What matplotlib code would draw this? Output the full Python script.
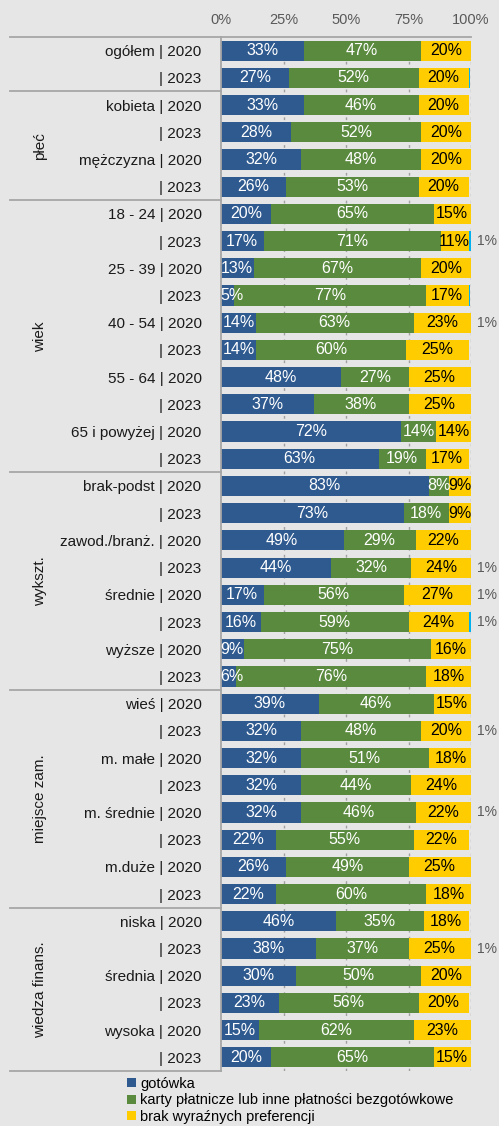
import numpy as np
import matplotlib.pyplot as plt

plt.rcParams['font.family'] = ['Liberation Sans', 'DejaVu Sans']

# row labels (category | year) and group captions
labels = ['ogółem | 2020', '| 2023',
          'kobieta | 2020', '| 2023', 'mężczyzna | 2020', '| 2023',
          '18 - 24 | 2020', '| 2023', '25 - 39 | 2020', '| 2023',
          '40 - 54 | 2020', '| 2023', '55 - 64 | 2020', '| 2023',
          '65 i powyżej | 2020', '| 2023',
          'brak-podst | 2020', '| 2023', 'zawod./branż. | 2020', '| 2023',
          'średnie | 2020', '| 2023', 'wyższe | 2020', '| 2023',
          'wieś | 2020', '| 2023', 'm. małe | 2020', '| 2023',
          'm. średnie | 2020', '| 2023', 'm.duże | 2020', '| 2023',
          'niska | 2020', '| 2023', 'średnia | 2020', '| 2023',
          'wysoka | 2020', '| 2023']
groups = ['', 'płeć', 'wiek', 'wykszt.', 'miejsce zam.', 'wiedza finans.']
group_sizes = [2, 4, 10, 8, 8, 6]

gotowka = [33, 27, 33, 28, 32, 26, 20, 17, 13, 5, 14, 14, 48, 37, 72, 63,
           83, 73, 49, 44, 17, 16, 9, 6, 39, 32, 32, 32, 32, 22, 26, 22,
           46, 38, 30, 23, 15, 20]
karty = [47, 52, 46, 52, 48, 53, 65, 71, 67, 77, 63, 60, 27, 38, 14, 19,
         8, 18, 29, 32, 56, 59, 75, 76, 46, 48, 51, 44, 46, 55, 49, 60,
         35, 37, 50, 56, 62, 65]
brak = [20, 20, 20, 20, 20, 20, 15, 11, 20, 17, 23, 25, 25, 25, 14, 17,
        9, 9, 22, 24, 27, 24, 16, 18, 15, 20, 18, 24, 22, 22, 25, 18,
        18, 25, 20, 20, 23, 15]
inne = [0, 0.5, 0, 0, 0, 0, 0, 1, 0.3, 0.5, 1, 0.3, 0, 0, 0, 0,
        0, 0, 0.3, 1, 1, 1, 0, 0, 0.3, 1, 0, 0, 1, 0, 0, 0,
        0, 1, 0, 0, 0, 0.3]

series = [('gotówka', gotowka, '#2f5a8f', 'white'),
          ('karty płatnicze lub inne płatności bezgotówkowe', karty, '#5a8a3e', 'white'),
          ('brak wyraźnych preferencji', brak, '#ffcc00', 'black')]

bg = '#e6e6e6'
line_col = '#a6a6a6'

fig = plt.figure(figsize=(4.99, 11.26), dpi=100, facecolor=bg)
ax = fig.add_axes([221 / 499, 1 - 1071 / 1126, 250 / 499, (1071 - 37) / 1126])
ax.set_facecolor(bg)

y = np.arange(len(labels))
left = np.zeros(len(labels))
handles = []
for name, vals, col, tcol in series:
    vals = np.array(vals, dtype=float)
    bars = ax.barh(y, vals, left=left, height=0.74, color=col, label=name, zorder=2)
    handles.append(bars)
    for yi, (l, v) in enumerate(zip(left, vals)):
        # keep short labels from running past the left edge
        xt = max(l + v / 2, 4.5)
        ax.text(xt, yi, f'{v:.0f}%', ha='center', va='center',
                color=tcol, fontsize=11.5, zorder=3)
    left += vals

ax.barh(y, inne, left=left, height=0.74, color='#00b0f0', zorder=2)
for yi, v in enumerate(inne):
    if v >= 1:
        ax.text(102.5, yi, f'{v:.0f}%', ha='left', va='center',
                color='#595959', fontsize=10, clip_on=False)

ax.set_xlim(0, 100)
ax.set_ylim(len(labels) - 0.5, -0.5)
ax.xaxis.tick_top()
ax.set_xticks([0, 25, 50, 75, 100])
ax.set_xticklabels(['0%', '25%', '50%', '75%', '100%'], fontsize=10.5, color='#595959')
ax.tick_params(axis='x', length=0, pad=7)
ax.set_yticks(y)
ax.set_yticklabels(labels, fontsize=11, color='#1a1a1a')
ax.tick_params(axis='y', length=0, pad=14)

for xv in [25, 50, 75, 100]:
    ax.axvline(xv, color='#a0a0a0', linestyle=(0, (2, 3)), linewidth=1, zorder=1)

for s in ['right', 'bottom']:
    ax.spines[s].set_visible(False)
for s in ['left', 'top']:
    ax.spines[s].set_color(line_col)
    ax.spines[s].set_linewidth(1.3)

# group separators and captions in the label area
ytr = ax.get_yaxis_transform()
start = 0
ax.plot([-0.844, 0], [-0.5, -0.5], transform=ytr, color=line_col, lw=1.3, clip_on=False)
for g, n in zip(groups, group_sizes):
    end = start + n
    ax.plot([-0.844, 0], [end - 0.5, end - 0.5], transform=ytr,
            color=line_col, lw=1.3, clip_on=False)
    if g:
        ax.text(-0.725, (start + end - 1) / 2, g, transform=ytr, rotation=90,
                ha='center', va='center', fontsize=11, color='#1a1a1a')
    start = end

fig.legend(handles=handles, loc='upper left', bbox_to_anchor=(127 / 499, 1 - 1077 / 1126),
           frameon=False, fontsize=10.5, handlelength=0.6, handleheight=0.6,
           handletextpad=0.3, labelspacing=0.17, borderpad=0, borderaxespad=0)

fig.savefig('out.png', dpi=100, facecolor=bg)
